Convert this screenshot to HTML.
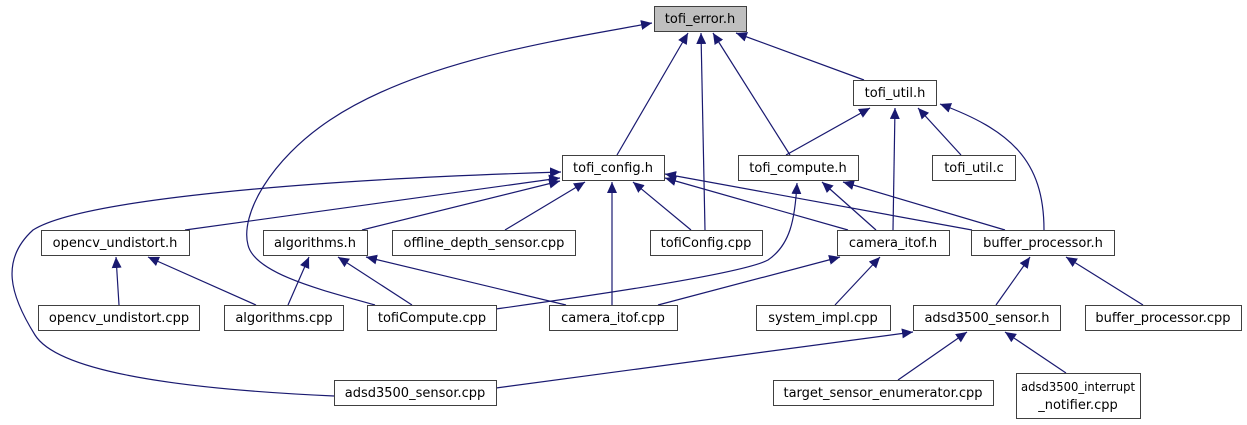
<!DOCTYPE html>
<html><head><meta charset="utf-8"><style>
html,body{margin:0;padding:0;background:#fff;}
svg{display:block;}
text{font-family:"DejaVu Sans","Liberation Sans",sans-serif;font-size:13px;fill:#000;}
</style></head><body>
<svg width="1247" height="425" viewBox="0 0 1247 425" xmlns="http://www.w3.org/2000/svg">
<defs>
<marker id="a" markerWidth="12" markerHeight="10" refX="11" refY="5" orient="auto" markerUnits="userSpaceOnUse">
<path d="M0,0 L11,5 L0,10 Z" fill="#191970"/>
</marker>
</defs>
<g fill="none" stroke="#191970" stroke-width="1.2" marker-end="url(#a)">
<path d="M617,155 L688,33"/>
<path d="M705,230 L701,33"/>
<path d="M790,155 L713,33"/>
<path d="M864,80 L736,33"/>
<path d="M375,305 C330,292 255,275 248,245 C240,215 270,160 330,120 C420,60 560,40 652,23"/>
<path d="M786,155 L870,108"/>
<path d="M893,230 L895,108"/>
<path d="M961,155 L918,108"/>
<path d="M1044,230 C1044,160 1010,130 940,104"/>
<path d="M185,230 L560,178"/>
<path d="M362,230 L560,181"/>
<path d="M505,230 L585,182"/>
<path d="M691,230 L633,182"/>
<path d="M612,305 L612,182"/>
<path d="M848,230 L665,178"/>
<path d="M972,230 L665,174"/>
<path d="M334,396 C200,390 60,375 35,335 C10,295 0,260 33,230 C80,200 300,180 561,172"/>
<path d="M876,230 L822,182"/>
<path d="M1005,230 L843,182"/>
<path d="M496,309 C560,300 740,275 768,260 C790,245 795,220 797,183"/>
<path d="M119,305 L116,257"/>
<path d="M256,305 L148,257"/>
<path d="M288,305 L309,257"/>
<path d="M412,305 L338,257"/>
<path d="M566,305 L366,257"/>
<path d="M658,305 L840,257"/>
<path d="M835,305 L880,257"/>
<path d="M996,305 L1030,257"/>
<path d="M1143,305 L1066,257"/>
<path d="M496,388 L913,332"/>
<path d="M898,380 L967,332"/>
<path d="M1066,373 L1005,332"/>
</g>
<g stroke="#404040" stroke-width="1" fill="#fff">
<rect x="654.5" y="6.5" width="92" height="25" fill="#bfbfbf"/>
<rect x="853.5" y="80.5" width="83" height="25"/>
<rect x="562.5" y="155.5" width="102" height="25"/>
<rect x="738.5" y="155.5" width="120" height="25"/>
<rect x="932.5" y="155.5" width="83" height="25"/>
<rect x="41.5" y="230.5" width="148" height="25"/>
<rect x="263.5" y="230.5" width="104" height="25"/>
<rect x="392.5" y="230.5" width="183" height="25"/>
<rect x="650.5" y="230.5" width="112" height="25"/>
<rect x="837.5" y="230.5" width="112" height="25"/>
<rect x="971.5" y="230.5" width="143" height="25"/>
<rect x="38.5" y="305.5" width="161" height="25"/>
<rect x="224.5" y="305.5" width="119" height="25"/>
<rect x="367.5" y="305.5" width="129" height="25"/>
<rect x="549.5" y="305.5" width="128" height="25"/>
<rect x="756.5" y="305.5" width="134" height="25"/>
<rect x="913.5" y="305.5" width="147" height="25"/>
<rect x="1085.5" y="305.5" width="156" height="25"/>
<rect x="334.5" y="380.5" width="162" height="25"/>
<rect x="773.5" y="380.5" width="220" height="25"/>
<rect x="1016.5" y="373.5" width="124" height="45"/>
</g>
<g text-anchor="middle">
<text x="700" y="23">tofi_error.h</text>
<text x="895" y="97">tofi_util.h</text>
<text x="613" y="172">tofi_config.h</text>
<text x="798" y="172">tofi_compute.h</text>
<text x="974" y="172">tofi_util.c</text>
<text x="115" y="247">opencv_undistort.h</text>
<text x="315" y="247">algorithms.h</text>
<text x="484" y="247">offline_depth_sensor.cpp</text>
<text x="706" y="247">tofiConfig.cpp</text>
<text x="893" y="247">camera_itof.h</text>
<text x="1043" y="247">buffer_processor.h</text>
<text x="119" y="322">opencv_undistort.cpp</text>
<text x="284" y="322">algorithms.cpp</text>
<text x="432" y="322">tofiCompute.cpp</text>
<text x="613" y="322">camera_itof.cpp</text>
<text x="823" y="322">system_impl.cpp</text>
<text x="987" y="322">adsd3500_sensor.h</text>
<text x="1163" y="322">buffer_processor.cpp</text>
<text x="415" y="397">adsd3500_sensor.cpp</text>
<text x="883" y="397">target_sensor_enumerator.cpp</text>
<text x="1078" y="391" textLength="114" lengthAdjust="spacingAndGlyphs" style="font-size:12.5px">adsd3500_interrupt</text>
<text x="1078" y="409">_notifier.cpp</text>
</g>
</svg>
</body></html>
